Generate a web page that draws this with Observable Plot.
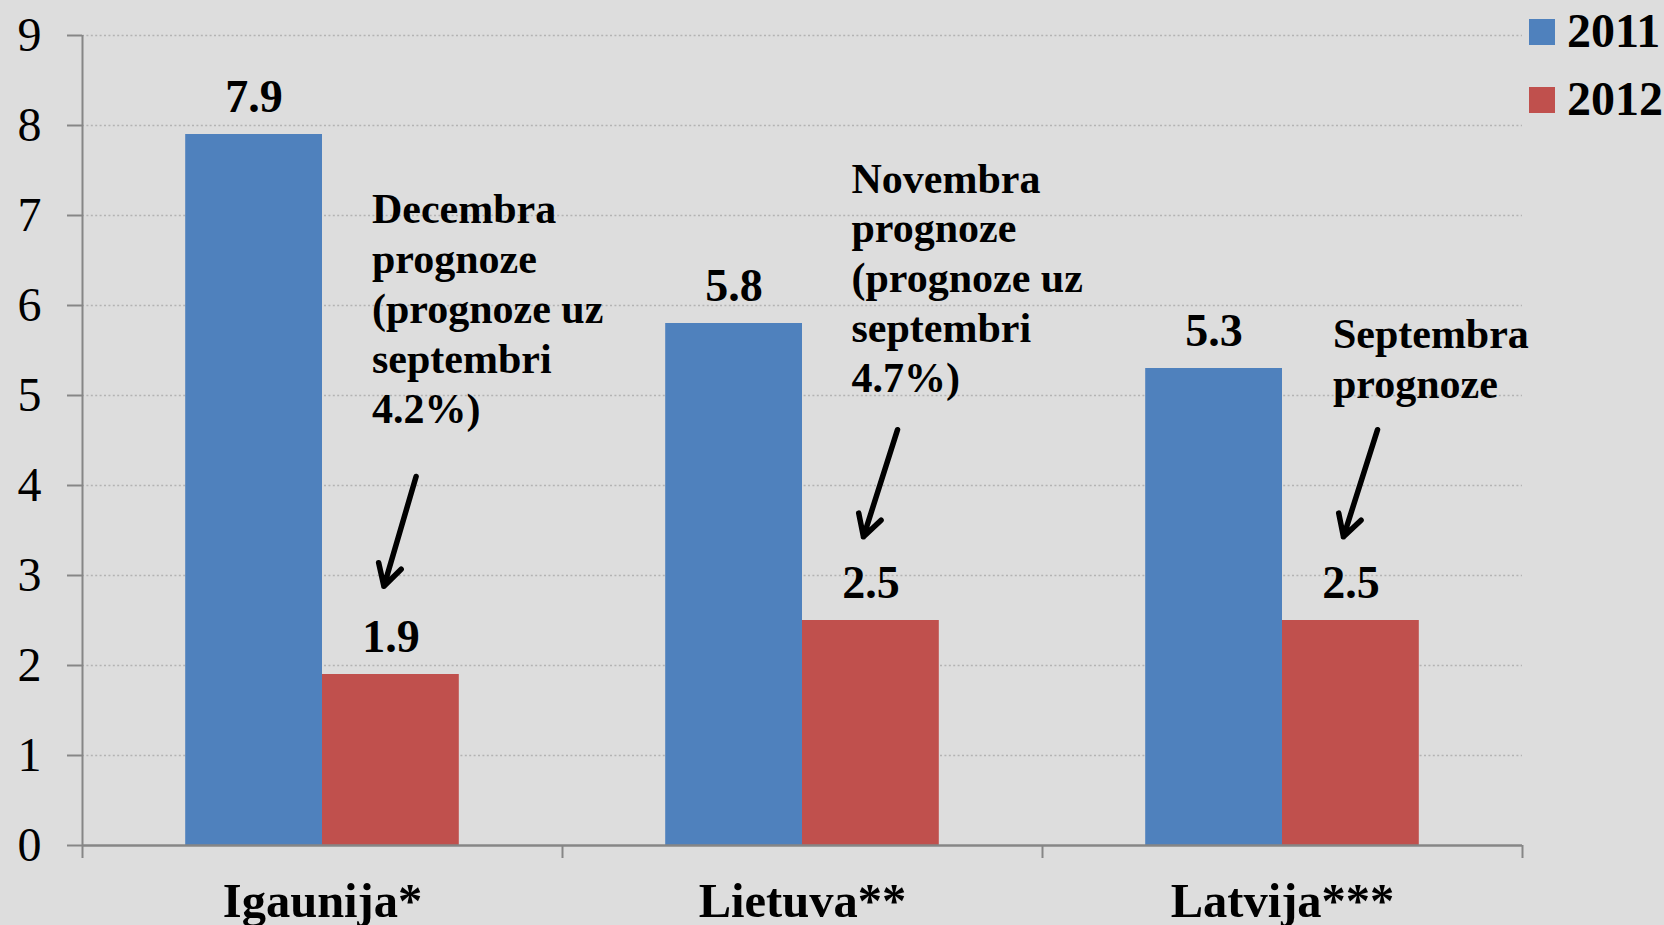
<!DOCTYPE html>
<html>
<head>
<meta charset="utf-8">
<script src="https://cdn.jsdelivr.net/npm/d3@7"></script>
<script src="https://cdn.jsdelivr.net/npm/@observablehq/plot@0.6"></script>
<style>
  html, body { margin: 0; padding: 0; background: #dddddd; }
  #wrap { position: relative; width: 1664px; height: 925px; overflow: hidden; }
  #legend { position: absolute; left: 1529px; top: 0; font-family: "Liberation Serif", serif; font-weight: bold; font-size: 48px; color: #000; }
  .row { position: absolute; left: 0; white-space: nowrap; height: 60px; }
  .sw { position: absolute; left: 0; width: 26px; height: 26px; }
  .lab { position: absolute; left: 38px; line-height: 1; }
</style>
</head>
<body>
<div id="wrap"><div id="legend"></div></div>
<script>
// ---- data ----
const countries = ["Igaunija*", "Lietuva**", "Latvija***"];
const years = ["2011", "2012"];
const values2011 = [7.9, 5.8, 5.3];
const values2012 = [1.9, 2.5, 2.5];
const notes = [
  "Decembra\nprognoze\n(prognoze uz\nseptembri\n4.2%)",
  "Novembra\nprognoze\n(prognoze uz\nseptembri\n4.7%)",
  "Septembra\nprognoze"
];
const yTicks = [0, 1, 2, 3, 4, 5, 6, 7, 8, 9];

// ---- layout (positions inside each country slot, in slot units) ----
const colors = {"2011": "#4f81bd", "2012": "#c0504d"};
const barStart = {"2011": 0.215, "2012": 0.5};
const barWidth = 0.285;
const noteLayout = [
  {dx: 0.603, y: 7.31, ax1: 0.695, ay1: 4.1, ax2: 0.628, ay2: 2.88},
  {dx: 0.602, y: 7.65, ax1: 0.698, ay1: 4.62, ax2: 0.627, ay2: 3.43},
  {dx: 0.605, y: 5.92, ax1: 0.698, ay1: 4.62, ax2: 0.627, ay2: 3.43}
];

const rows = [];
countries.forEach((c, i) => {
  rows.push({country: c, i, year: "2011", value: values2011[i]});
  rows.push({country: c, i, year: "2012", value: values2012[i]});
});
const noteRows = countries.map((c, i) => ({i, text: notes[i], ...noteLayout[i]}));

const font = "Liberation Serif";

const chart = Plot.plot({
  width: 1664,
  height: 925,
  marginLeft: 82,
  marginRight: 142,
  marginTop: 35,
  marginBottom: 80,
  style: {background: "transparent", fontFamily: font, color: "#000", overflow: "visible"},
  x: {domain: [0, countries.length]},
  y: {domain: [0, 9]},
  color: {domain: years, range: years.map(y => colors[y])},
  marks: [
    Plot.ruleY(yTicks.filter(d => d > 0), {x1: 0, x2: countries.length, stroke: "#b3b3b3", strokeWidth: 1.6, strokeDasharray: "2,2.4"}),
    Plot.rectY(rows, {
      x1: d => d.i + barStart[d.year],
      x2: d => d.i + barStart[d.year] + barWidth,
      y1: 0,
      y2: "value",
      fill: "year",
      inset: 0
    }),
    Plot.text(rows, {
      x: d => d.i + barStart[d.year] + barWidth / 2,
      y: "value",
      text: d => d.value.toFixed(1),
      dy: -23,
      lineAnchor: "bottom",
      fontSize: 46,
      fontWeight: "bold",
      fontFamily: font,
      fill: "#000"
    }),
    Plot.text(noteRows, {
      x: d => d.i + d.dx,
      y: "y",
      text: "text",
      textAnchor: "start",
      lineAnchor: "top",
      lineHeight: 1.19,
      fontSize: 42,
      fontWeight: "bold",
      fontFamily: font,
      fill: "#000"
    }),
    Plot.arrow(noteRows, {
      x1: d => d.i + d.ax1,
      y1: "ay1",
      x2: d => d.i + d.ax2,
      y2: "ay2",
      stroke: "#000",
      strokeWidth: 5.5,
      headLength: 6.6,
      headAngle: 58
    }),
    Plot.ruleY([0], {x1: 0, x2: countries.length, stroke: "#868686", strokeWidth: 2.5}),
    Plot.ruleX([0], {y1: 0, y2: 9, stroke: "#868686", strokeWidth: 2}),
    Plot.ruleX(d3.range(0, countries.length + 1), {y1: 0, y2: 0, insetBottom: -13, stroke: "#868686", strokeWidth: 2}),
    Plot.axisY({
      ticks: yTicks,
      tickSize: 15,
      tickPadding: 26,
      tickFormat: d => String(d),
      fontSize: 48,
      fontFamily: font,
      stroke: "#868686",
      strokeWidth: 2,
      fill: "#000",
      label: null
    }),
    Plot.axisX({
      ticks: countries.map((c, i) => i + 0.5),
      tickSize: 0,
      tickPadding: 37.5,
      tickFormat: v => countries[Math.floor(v)],
      fontSize: 48.5,
      fontWeight: "bold",
      fontFamily: font,
      fill: "#000",
      label: null
    })
  ]
});

document.getElementById("wrap").prepend(chart);

// legend
const legend = document.getElementById("legend");
years.forEach((y, k) => {
  const row = document.createElement("div");
  row.className = "row";
  row.style.top = (19 + k * 68) + "px";
  row.innerHTML = `<div class="sw" style="background:${colors[y]}"></div><div class="lab" style="top:-12px">${y}</div>`;
  legend.appendChild(row);
});
</script>
</body>
</html>
